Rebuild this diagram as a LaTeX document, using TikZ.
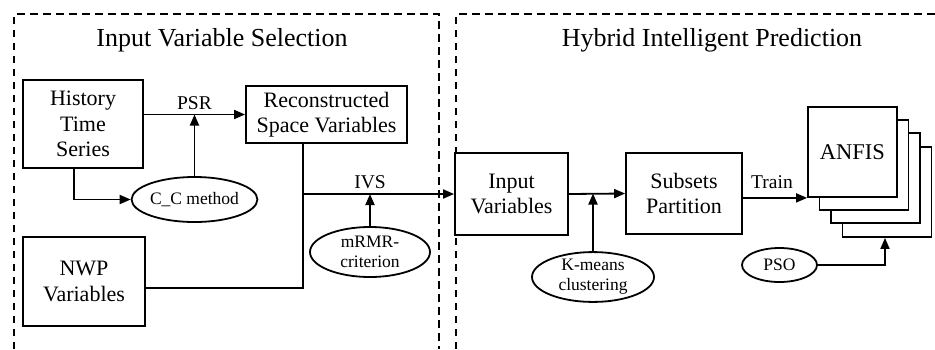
\documentclass[tikz,border=0pt]{standalone}
\usepackage{fontspec}
\setmainfont{Liberation Serif}
\usetikzlibrary{arrows.meta,shapes.geometric}
\begin{document}
\begin{tikzpicture}[x=1pt,y=-1pt,
  line width=1.8pt,
  arr/.style={-{Triangle[length=11pt,width=9pt]}},
  dbox/.style={draw,dash pattern=on 7.5pt off 5.5pt,line width=1.6pt},
  box/.style={draw,fill=white,inner sep=0pt,align=center,font=\fontsize{22}{25.5}\selectfont},
  ell/.style={draw,ellipse,inner sep=0pt,align=center,font=\fontsize{17.5}{20}\selectfont},
  lab/.style={inner sep=0pt,font=\fontsize{19.5}{22}\selectfont},
  ttl/.style={inner sep=0pt,font=\fontsize{26}{30}\selectfont}]
\useasboundingbox (0,0) rectangle (935,349);
% dashed frames
\draw[dbox] (14,349) -- (14,14) -- (439,14) -- (439,349);
\draw[dbox] (456,349) -- (456,14) -- (935,14);
\node[ttl] (t1) at (222,40) {Input Variable Selection};
\node[ttl] (t2) at (712,40) {Hybrid Intelligent Prediction};
% boxes
\node[box,minimum width=120pt,minimum height=88pt] (hist) at (83,124) {History\\Time\\Series};
\node[box,minimum width=161pt,minimum height=57pt] (recon) at (326.5,114.5) {Reconstructed\\Space Variables};
\node[box,minimum width=122pt,minimum height=89pt] (nwp) at (84,281.5) {NWP\\Variables};
\node[box,minimum width=113pt,minimum height=82pt] (inputv) at (511.5,194) {Input\\Variables};
\node[box,minimum width=116pt,minimum height=81pt] (subsets) at (684,193.5) {Subsets\\Partition};
% ANFIS stack
\node[box,minimum width=89pt,minimum height=90pt] (a4) at (887,192) {};
\node[box,minimum width=89pt,minimum height=90pt] (a3) at (875.5,178) {};
\node[box,minimum width=89pt,minimum height=90pt] (a2) at (864,165) {};
\node[box,minimum width=89pt,minimum height=90pt,font=\fontsize{22.5}{25}\selectfont] (anfis) at (852.5,152) {ANFIS};
% ellipses
\node[ell,minimum width=113pt,minimum height=45pt] (cc) at (194.5,199.5) {C\_C method};
\node[ell,minimum width=120pt,minimum height=50pt] (mrmr) at (370,252) {mRMR-\\criterion};
\node[ell,minimum width=122pt,minimum height=46pt] (kmeans) at (593,277) {K-means\\clustering};
\node[ell,minimum width=75pt,minimum height=34pt] (pso) at (779.5,265) {PSO};
% connectors
\draw[arr] (hist.east |- recon.west) -- (recon.west);
\node[lab] (psr) at (194.5,103) {PSR};
\draw[arr] (cc.north) -- (cc.north |- recon.west);
\draw[arr] ([xshift=-9pt]hist.south) |- (cc.west);
\coordinate (j) at (303,194);
\draw ([yshift=-6.5pt]nwp.east) -| ([xshift=-23.5pt]recon.south);
\draw[arr] (j) -- (inputv.west);
\node[lab] (ivs) at (370,182) {IVS};
\draw[arr] (mrmr.north) -- (mrmr.north |- j);
\draw[arr] (inputv.east) -- (subsets.west);
\draw[arr] (kmeans.north) -- (kmeans.north |- subsets.west);
\draw[arr] (subsets.east |- anfis.south west) -- (anfis.south west);
\node[lab] (train) at (772,182) {Train};
\draw[arr] (pso.east) -| ([xshift=-2pt]a4.south);
\end{tikzpicture}
\end{document}
